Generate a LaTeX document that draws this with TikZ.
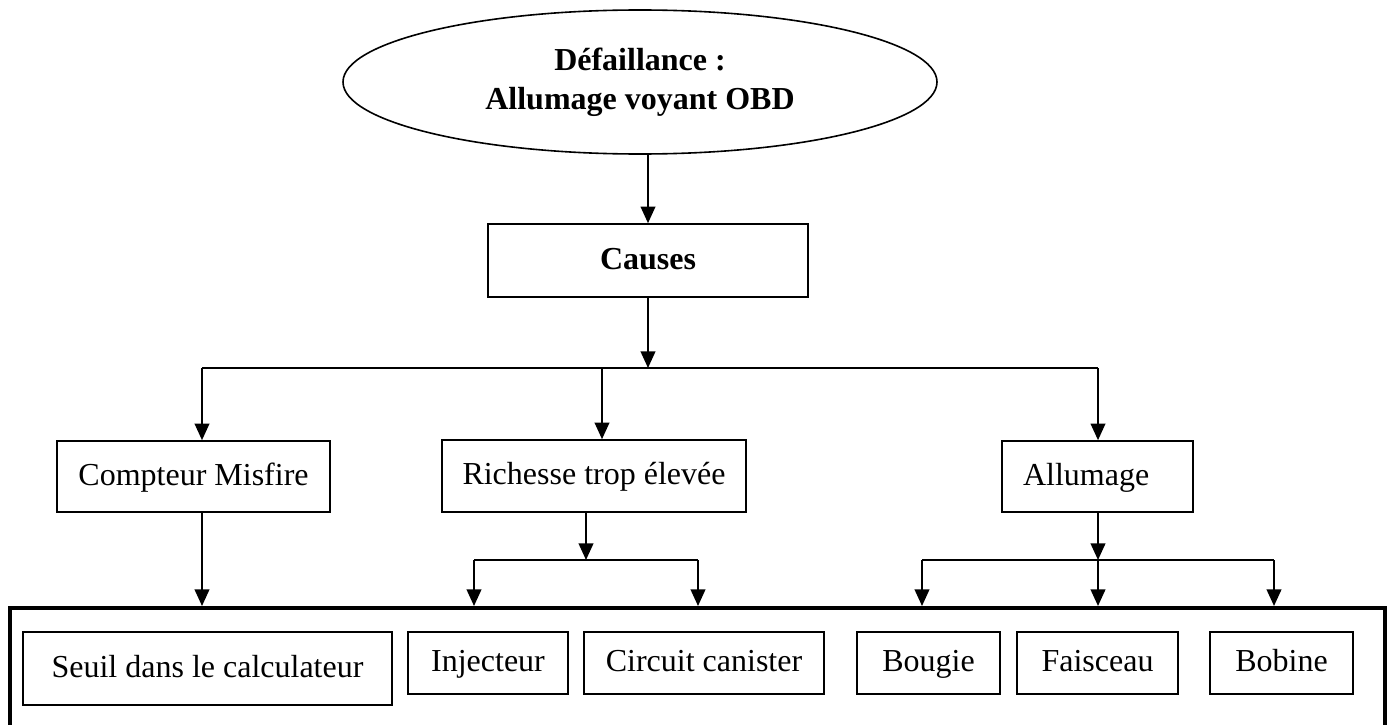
\documentclass[tikz,border=0pt]{standalone}
\usepackage{fontspec}
\setmainfont{Liberation Serif}
\usetikzlibrary{shapes.geometric,arrows.meta}

\newcommand{\px}{0.75pt}
\tikzset{every picture/.style={line width=1.2pt},
	boite/.style={draw,rectangle,inner sep=0pt,text height=15pt,text depth=2pt},
	fleche/.style={-{Triangle[length=12.5pt,width=11pt]},line width=1.5pt}}

\begin{document}
\begin{tikzpicture}[x=\px,y=-\px,font=\fontsize{24}{29}\selectfont]
	\useasboundingbox (0,0) rectangle (1394,724);

	% niveau 0 et 1
	\node [ellipse,draw,minimum width=594*\px,minimum height=144*\px,align=center,font=\fontsize{24}{29}\selectfont\bfseries](defaut) at (640,82) {Défaillance :\\Allumage voyant OBD};
	\node [boite,minimum width=320*\px,minimum height=73*\px,font=\fontsize{24}{29}\selectfont\bfseries](causes) at (648,260.5) {Causes};

	% niveau 2
	\node [boite,minimum width=273*\px,minimum height=71*\px](compteur) at (193.5,476.5) {Compteur Misfire};
	\node [boite,minimum width=304*\px,minimum height=72*\px](richesse) at (594,476) {Richesse trop élevée};
	\node [boite,text width=149*\px,inner xsep=21*\px,minimum height=71*\px,align=left](allumage) at (1097.5,476.5) {Allumage};

	% cadre du bas
	\node [draw,rectangle,line width=3pt,minimum width=1375*\px,minimum height=152*\px](groupe) at (697.5,684) {};
	\node [boite,minimum width=369*\px,minimum height=73*\px](seuil) at (207.5,668.5) {Seuil dans le calculateur};
	\node [boite,minimum width=160*\px,minimum height=62*\px](injecteur) at (488,663) {Injecteur};
	\node [boite,minimum width=240*\px,minimum height=62*\px](canister) at (704,663) {Circuit canister};
	\node [boite,minimum width=143*\px,minimum height=62*\px](bougie) at (928.5,663) {Bougie};
	\node [boite,minimum width=161*\px,minimum height=62*\px](faisceau) at (1097.5,663) {Faisceau};
	\node [boite,minimum width=143*\px,minimum height=62*\px](bobine) at (1281.5,663) {Bobine};

	% points de branchement
	\coordinate (m1) at (202,368);
	\coordinate (m2) at (602,368);
	\coordinate (m3) at (1098,368);
	\coordinate (r0) at (586,560);
	\coordinate (r1) at (474,560);
	\coordinate (r2) at (698,560);
	\coordinate (a1) at (922,560);
	\coordinate (a2) at (1098,560);
	\coordinate (a3) at (1274,560);

	\draw [fleche] (causes.north |- defaut.south) -- (causes.north);
	\draw [fleche] (causes.south) -- (causes.south |- m1);
	\draw [line width=1.5pt] (m1) -- (m3);
	\draw [fleche] (m1) -- (m1 |- compteur.north);
	\draw [fleche] (m2) -- (m2 |- richesse.north);
	\draw [fleche] (m3) -- (m3 |- allumage.north);

	\draw [fleche] (m1 |- compteur.south) -- (m1 |- groupe.north);

	\draw [fleche] (r0 |- richesse.south) -- (r0);
	\draw [line width=1.5pt] (r1) -- (r2);
	\draw [fleche] (r1) -- (r1 |- groupe.north);
	\draw [fleche] (r2) -- (r2 |- groupe.north);

	\draw [fleche] (a2 |- allumage.south) -- (a2);
	\draw [line width=1.5pt] (a1) -- (a3);
	\draw [fleche] (a1) -- (a1 |- groupe.north);
	\draw [fleche] (a2) -- (a2 |- groupe.north);
	\draw [fleche] (a3) -- (a3 |- groupe.north);
\end{tikzpicture}
\end{document}
